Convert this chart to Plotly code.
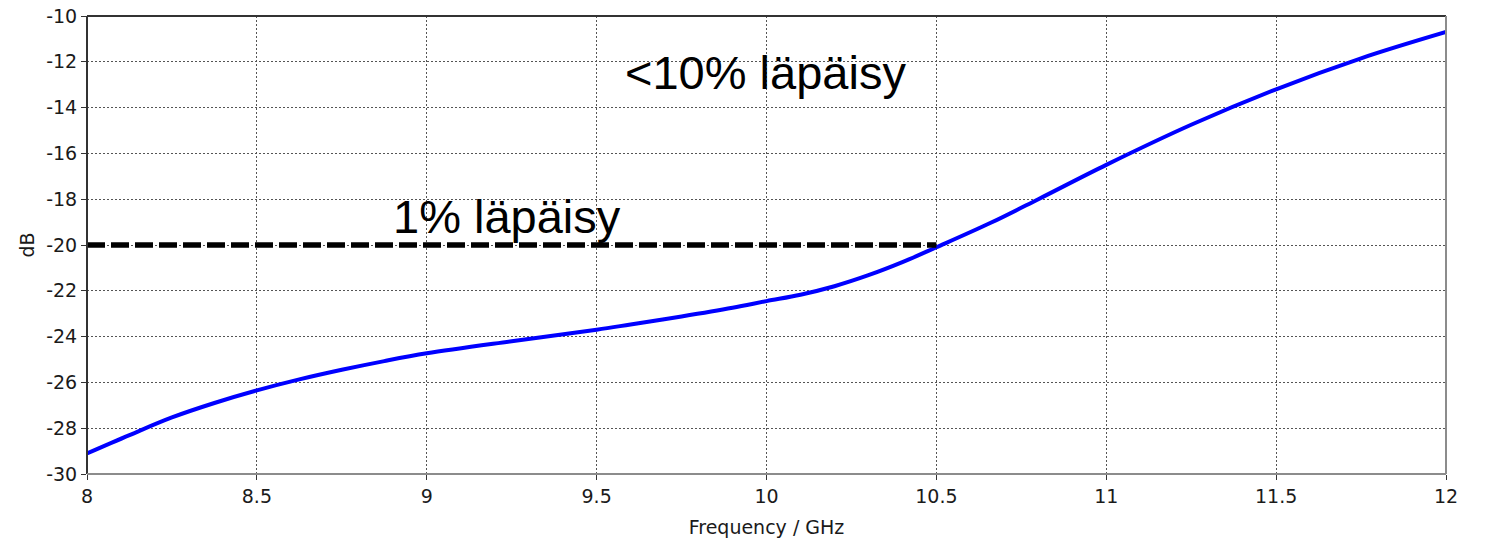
import plotly.graph_objects as go

# Transmission curve read from the measurement (frequency in GHz, level in dB)
freq_ghz = [8.0, 8.125, 8.25, 8.375, 8.5, 8.625, 8.75, 8.875, 9.0, 9.25, 9.5,
            9.6, 9.75, 9.9, 10.0, 10.1, 10.2, 10.3, 10.4, 10.5, 10.66, 10.8,
            11.0, 11.25, 11.5, 11.75, 12.0]
level_db = [-29.1, -28.3, -27.53, -26.9, -26.35, -25.87, -25.45, -25.07, -24.73,
            -24.2, -23.7, -23.47, -23.12, -22.74, -22.45, -22.17, -21.8, -21.32,
            -20.75, -20.1, -19.03, -18.0, -16.5, -14.75, -13.2, -11.85, -10.7]

# 1 % transmission threshold (-20 dB), drawn up to where the curve crosses it
limit_freq = [8.0, 10.5]
limit_db = [-20.0, -20.0]

# Text labels: (text, x, y)
labels = [
    ("1% läpäisy", 9.236, -18.75),
    ("<10% läpäisy", 9.996, -12.45),
]

x_ticks = [8, 8.5, 9, 9.5, 10, 10.5, 11, 11.5, 12]
x_tick_text = ["8", "8.5", "9", "9.5", "10", "10.5", "11", "11.5", "12"]
y_ticks = [-30, -28, -26, -24, -22, -20, -18, -16, -14, -12, -10]
y_tick_text = [str(v) for v in y_ticks]

TICK_FONT = dict(family="DejaVu Sans", size=19, color="#1a1a1a")
LABEL_FONT = dict(family="Liberation Sans", size=47, color="#000000")

fig = go.Figure()

fig.add_trace(go.Scatter(
    x=freq_ghz, y=level_db, mode="lines",
    line=dict(color="#0000ff", width=4, shape="spline", smoothing=1.0),
    showlegend=False, hoverinfo="skip",
))

fig.add_trace(go.Scatter(
    x=limit_freq, y=limit_db, mode="lines",
    line=dict(color="#000000", width=5.5, dash="18px,6px"),
    showlegend=False, hoverinfo="skip",
))

for text, x, y in labels:
    fig.add_annotation(x=x, y=y, xref="x", yref="y", text=text,
                       showarrow=False, font=LABEL_FONT,
                       xanchor="center", yanchor="middle")

grid = dict(showgrid=True, gridcolor="#555555", gridwidth=1, griddash="2px,2px")

fig.update_xaxes(
    range=[8, 12], tickmode="array", tickvals=x_ticks, ticktext=x_tick_text,
    ticks="outside", ticklen=5, tickcolor="#333333", tickfont=TICK_FONT,
    showline=False, zeroline=False, automargin=False,
    title=dict(text="Frequency / GHz", font=TICK_FONT, standoff=14),
    **grid,
)
fig.update_yaxes(
    range=[-30, -10], tickmode="array", tickvals=y_ticks, ticktext=y_tick_text,
    ticks="outside", ticklen=5, tickcolor="#333333", tickfont=TICK_FONT,
    showline=False, zeroline=False, automargin=False,
    title=dict(text="dB", font=TICK_FONT, standoff=6),
    **grid,
)

# Plot frame: dark on the left and top, grey on the right and bottom
frame = [
    (0, 0, 0, 1, "#333333"),
    (0, 1, 1, 1, "#333333"),
    (1, 0, 1, 1, "#8c8c8c"),
    (0, 0, 1, 0, "#8c8c8c"),
]
for x0, y0, x1, y1, color in frame:
    fig.add_shape(type="line", xref="paper", yref="paper",
                  x0=x0, y0=y0, x1=x1, y1=y1,
                  line=dict(color=color, width=2), layer="above")

fig.update_layout(
    width=1488, height=543,
    margin=dict(l=87, r=42, t=16, b=69),
    plot_bgcolor="#ffffff", paper_bgcolor="#ffffff",
    showlegend=False,
)

fig.write_html("out.html")
